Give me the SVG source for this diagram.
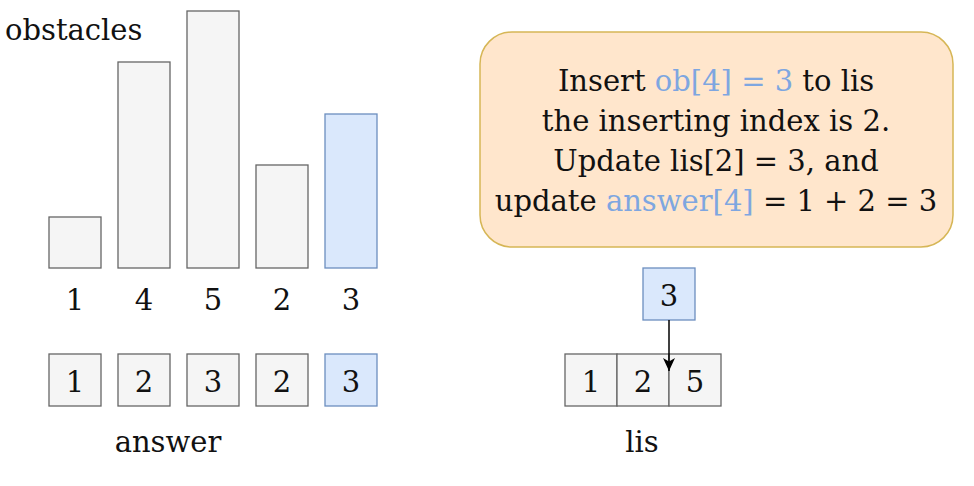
<svg xmlns="http://www.w3.org/2000/svg" width="974" height="486" viewBox="0 0 974 486">
<style>
text{font-family:"DejaVu Serif","Liberation Serif",serif;font-size:29px;fill:#111111}
.c{text-anchor:middle}
.g{fill:#f5f5f5;stroke:#666666;stroke-width:1.3}
.b{fill:#dae8fc;stroke:#6c8ebf;stroke-width:1.3}
.hl{fill:#7ea6e0}
</style>
<defs>
<marker id="arr" markerWidth="14" markerHeight="14" refX="13" refY="6" orient="auto" markerUnits="userSpaceOnUse">
<path d="M0,0 L13,6 L0,12 L3.5,6 Z" fill="#000"/>
</marker>
</defs>
<rect width="974" height="486" fill="#ffffff"/>
<g id="obstacles-label"><text x="5" y="40">obstacles</text></g>
<g id="bar1"><rect class="g" x="49" y="217" width="52" height="51"/><text class="c" x="75" y="310">1</text></g>
<g id="bar2"><rect class="g" x="118" y="62" width="52" height="206"/><text class="c" x="144" y="310">4</text></g>
<g id="bar3"><rect class="g" x="187" y="11" width="52" height="257"/><text class="c" x="213" y="310">5</text></g>
<g id="bar4"><rect class="g" x="256" y="165" width="52" height="103"/><text class="c" x="282" y="310">2</text></g>
<g id="bar5"><rect class="b" x="325" y="114" width="52" height="154"/><text class="c" x="351" y="310">3</text></g>
<g id="ans1"><rect class="g" x="49" y="354" width="52" height="52"/><text class="c" x="75" y="392">1</text></g>
<g id="ans2"><rect class="g" x="118" y="354" width="52" height="52"/><text class="c" x="144" y="392">2</text></g>
<g id="ans3"><rect class="g" x="187" y="354" width="52" height="52"/><text class="c" x="213" y="392">3</text></g>
<g id="ans4"><rect class="g" x="256" y="354" width="52" height="52"/><text class="c" x="282" y="392">2</text></g>
<g id="ans5"><rect class="b" x="325" y="354" width="52" height="52"/><text class="c" x="351" y="392">3</text></g>
<g id="answer-label"><text class="c" x="168" y="452">answer</text></g>
<g id="note">
<rect x="480" y="32" width="473" height="215" rx="32" ry="32" fill="#ffe6cc" stroke="#d6b656" stroke-width="1.5"/>
<text class="c" x="716" y="91">Insert <tspan class="hl">ob[4] = 3</tspan> to lis</text>
<text class="c" x="716" y="131">the inserting index is 2.</text>
<text class="c" x="716" y="171">Update lis[2] = 3, and</text>
<text class="c" x="716" y="211">update <tspan class="hl">answer[4]</tspan> = 1 + 2 = 3</text>
</g>
<g id="new-item"><rect class="b" x="643" y="268" width="52" height="52"/><text class="c" x="669" y="306">3</text></g>
<g id="lis1"><rect class="g" x="565" y="354" width="52" height="52"/><text class="c" x="591" y="392">1</text></g>
<g id="lis2"><rect class="g" x="617" y="354" width="52" height="52"/><text class="c" x="643" y="392">2</text></g>
<g id="lis3"><rect class="g" x="669" y="354" width="52" height="52"/><text class="c" x="695" y="392">5</text></g>
<g id="lis-label"><text class="c" x="642" y="452">lis</text></g>
<g id="connectors">
<line x1="669" y1="320" x2="669" y2="371" stroke="#000" stroke-width="1.5" marker-end="url(#arr)"/>
</g>
</svg>
